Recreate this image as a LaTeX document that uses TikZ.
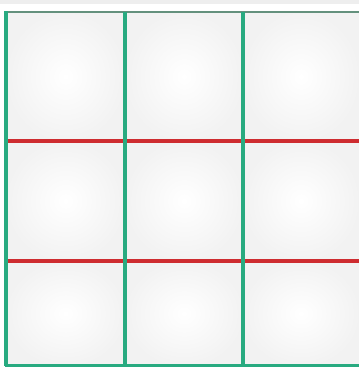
\documentclass[tikz,border=0pt]{standalone}
\definecolor{gridgreen}{RGB}{40,170,128}
\definecolor{gridred}{RGB}{206,44,48}
\definecolor{topline}{RGB}{100,145,125}
\definecolor{strip}{RGB}{238,238,238}
\tikzset{
  cell/.style={inner color=white, outer color=black!5, draw=none},
  vline/.style={draw=gridgreen, line width=3.2pt},
  hline/.style={draw=gridred, line width=3.6pt},
}
\begin{document}
\begin{tikzpicture}[x=1pt,y=-1pt]
\useasboundingbox (0,0) rectangle (359,368);
\fill[white] (0,0) rectangle (359,368);
\fill[strip] (0,0) rectangle (359,4);
% cells
\foreach \xa/\xb in {6/125,125/243,243/359}{
  \foreach \ya/\yb in {12/141,141/261,261/366}{
    \shade[cell] (\xa,\ya) rectangle (\xb,\yb);
  }
}
% top border
\draw[topline, line width=1.6pt] (6,12) -- (359,12);
% red horizontal lines
\draw[hline] (6,141) -- (359,141);
\draw[hline] (6,261) -- (359,261);
% green vertical lines
\draw[vline] (6,11) -- (6,366);
\draw[vline] (125,12) -- (125,366);
\draw[vline] (243,12) -- (243,366);
% bottom border
\draw[draw=gridgreen, line width=3pt] (4.5,365.5) -- (359,365.5);
\end{tikzpicture}
\end{document}
